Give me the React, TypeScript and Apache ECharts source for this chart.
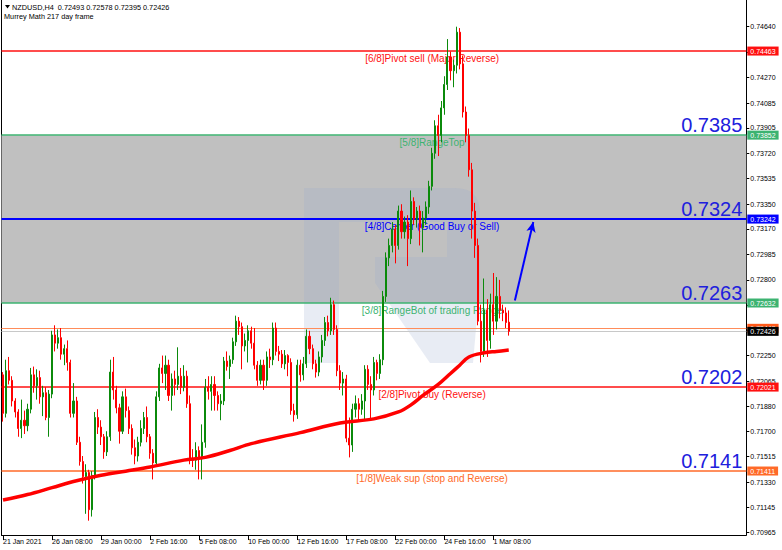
import React, { useEffect, useRef } from "react";
import * as echarts from "echarts";

const FONT = '"Liberation Sans", Arial, sans-serif';

const TITLE_LINE = "NZDUSD,H4  0.72493 0.72578 0.72395 0.72426";
const INDICATOR_LINE = "Murrey Math 217 day frame";

// x axis: one slot per H4 bar, label every 16 bars
const X_SLOTS = 243;
const X_TICK_STEP = 16;
const xTickLabels = [
  "21 Jan 2021", "26 Jan 08:00", "29 Jan 00:00", "2 Feb 16:00", "5 Feb 08:00",
  "10 Feb 00:00", "12 Feb 16:00", "17 Feb 08:00", "22 Feb 00:00", "24 Feb 16:00", "1 Mar 08:00",
];

// y axis
const Y_MIN = 0.70946;
const Y_MAX = 0.74834;
const yTickValues = [
  0.7464, 0.74455, 0.7427, 0.74085, 0.73905, 0.7372, 0.73535, 0.7335, 0.7317, 0.72985,
  0.728, 0.72615, 0.72435, 0.7225, 0.72065, 0.7188, 0.717, 0.71515, 0.7133, 0.71145, 0.70965,
];
// tick labels not covered by the price boxes
const yLabelValues = [
  0.7464, 0.7427, 0.74085, 0.73905, 0.7372, 0.73535, 0.7335, 0.7317, 0.72985,
  0.728, 0.7225, 0.72065, 0.7188, 0.717, 0.71515, 0.7133, 0.71145, 0.70965,
];

// candles: [open, high, low, close]
const ohlc: number[][] = [
  [0.7211, 0.7213, 0.7177, 0.7183], [0.7183, 0.7222, 0.718, 0.7214], [0.7214, 0.7224, 0.7204, 0.7207],
  [0.7207, 0.721, 0.7188, 0.7192], [0.7192, 0.7194, 0.718, 0.7184], [0.7184, 0.7186, 0.7166, 0.7172],
  [0.7172, 0.7193, 0.7165, 0.7178], [0.7178, 0.7185, 0.7168, 0.7174], [0.7174, 0.719, 0.717, 0.7186],
  [0.7186, 0.7216, 0.7183, 0.7211], [0.7211, 0.7217, 0.7198, 0.7203], [0.7203, 0.7215, 0.7193, 0.7209],
  [0.7209, 0.7214, 0.719, 0.7195], [0.7195, 0.7203, 0.7181, 0.7198], [0.7198, 0.7202, 0.7178, 0.718],
  [0.718, 0.72, 0.7166, 0.7197], [0.7197, 0.7243, 0.7194, 0.724], [0.724, 0.7247, 0.7228, 0.7234],
  [0.7234, 0.7244, 0.723, 0.7238], [0.7238, 0.7245, 0.7222, 0.7226], [0.7226, 0.7233, 0.7218, 0.723],
  [0.723, 0.7236, 0.7214, 0.722], [0.722, 0.7222, 0.718, 0.7183], [0.7183, 0.7205, 0.718, 0.7192],
  [0.7192, 0.7195, 0.716, 0.7162], [0.7162, 0.7166, 0.7145, 0.7148], [0.7148, 0.7152, 0.7132, 0.7137],
  [0.7137, 0.7146, 0.711, 0.714], [0.714, 0.7142, 0.7105, 0.7113], [0.7113, 0.7141, 0.7108, 0.7138],
  [0.7138, 0.7184, 0.7135, 0.718], [0.718, 0.7186, 0.7168, 0.7173], [0.7173, 0.7178, 0.716, 0.7166],
  [0.7166, 0.7168, 0.715, 0.7155], [0.7155, 0.717, 0.7152, 0.7166], [0.7166, 0.7222, 0.7163, 0.7213],
  [0.7213, 0.7224, 0.7193, 0.72], [0.72, 0.7203, 0.7183, 0.7187], [0.7187, 0.719, 0.7161, 0.717],
  [0.717, 0.7199, 0.7168, 0.7195], [0.7195, 0.7201, 0.718, 0.7185], [0.7185, 0.7188, 0.7168, 0.7172],
  [0.7172, 0.7175, 0.7153, 0.7158], [0.7158, 0.7164, 0.7146, 0.7152], [0.7152, 0.7166, 0.7148, 0.7162],
  [0.7162, 0.7178, 0.7159, 0.7172], [0.7172, 0.7184, 0.7168, 0.718], [0.718, 0.7188, 0.7162, 0.7166],
  [0.7166, 0.7168, 0.715, 0.7154], [0.7154, 0.7157, 0.7135, 0.7147], [0.7147, 0.7199, 0.7144, 0.7195],
  [0.7195, 0.7219, 0.7192, 0.7216], [0.7216, 0.7225, 0.7205, 0.7212], [0.7212, 0.7225, 0.72, 0.7218],
  [0.7218, 0.7222, 0.7192, 0.7196], [0.7196, 0.7212, 0.7185, 0.7208], [0.7208, 0.7214, 0.7196, 0.7204],
  [0.7204, 0.7231, 0.72, 0.721], [0.721, 0.7216, 0.7197, 0.7202], [0.7202, 0.7218, 0.7199, 0.721],
  [0.721, 0.7214, 0.7187, 0.719], [0.719, 0.7196, 0.7146, 0.715], [0.715, 0.7157, 0.7144, 0.7149],
  [0.7149, 0.7162, 0.7142, 0.7156], [0.7156, 0.7159, 0.7135, 0.715], [0.715, 0.7175, 0.7135, 0.7162],
  [0.7162, 0.7208, 0.7158, 0.7202], [0.7202, 0.721, 0.7193, 0.7199], [0.7199, 0.721, 0.7185, 0.7204],
  [0.7204, 0.721, 0.7185, 0.7196], [0.7196, 0.7199, 0.7185, 0.719], [0.719, 0.7197, 0.7178, 0.7192],
  [0.7192, 0.7224, 0.7189, 0.7221], [0.7221, 0.7228, 0.7214, 0.7217], [0.7217, 0.7225, 0.7208, 0.7222],
  [0.7222, 0.7238, 0.7219, 0.7235], [0.7235, 0.7254, 0.7232, 0.725], [0.725, 0.7253, 0.724, 0.7246],
  [0.7246, 0.7249, 0.7215, 0.7232], [0.7232, 0.7241, 0.7228, 0.7236], [0.7236, 0.7247, 0.722, 0.7243],
  [0.7243, 0.7246, 0.723, 0.7234], [0.7234, 0.7245, 0.7215, 0.7218], [0.7218, 0.7221, 0.7203, 0.7207],
  [0.7207, 0.7222, 0.7204, 0.7218], [0.7218, 0.7222, 0.72, 0.7207], [0.7207, 0.7228, 0.7203, 0.7224],
  [0.7224, 0.723, 0.7216, 0.7222], [0.7222, 0.7249, 0.7218, 0.7245], [0.7245, 0.7249, 0.7225, 0.7228],
  [0.7228, 0.7232, 0.7221, 0.7226], [0.7226, 0.7229, 0.7216, 0.7219], [0.7219, 0.7229, 0.7215, 0.7225],
  [0.7225, 0.7226, 0.721, 0.722], [0.722, 0.7223, 0.7182, 0.7185], [0.7185, 0.719, 0.7177, 0.7182],
  [0.7182, 0.7222, 0.7179, 0.7218], [0.7218, 0.7222, 0.7206, 0.7211], [0.7211, 0.7224, 0.7207, 0.7219],
  [0.7219, 0.7244, 0.7216, 0.7239], [0.7239, 0.7243, 0.7226, 0.723], [0.723, 0.7233, 0.7215, 0.7219],
  [0.7219, 0.7222, 0.7209, 0.7213], [0.7213, 0.7228, 0.721, 0.7224], [0.7224, 0.724, 0.722, 0.7236],
  [0.7236, 0.7253, 0.7232, 0.7249], [0.7249, 0.7254, 0.7239, 0.7243], [0.7243, 0.7267, 0.724, 0.7262],
  [0.7262, 0.7265, 0.724, 0.7244], [0.7244, 0.7247, 0.721, 0.7214], [0.7214, 0.7218, 0.72, 0.7205],
  [0.7205, 0.7213, 0.7196, 0.7208], [0.7208, 0.7211, 0.7162, 0.7165], [0.7165, 0.718, 0.7151, 0.716],
  [0.716, 0.719, 0.7155, 0.7186], [0.7186, 0.7196, 0.718, 0.719], [0.719, 0.7194, 0.7178, 0.7186],
  [0.7186, 0.7197, 0.7182, 0.7192], [0.7192, 0.7218, 0.7178, 0.7215], [0.7215, 0.7218, 0.72, 0.7204],
  [0.7204, 0.721, 0.7178, 0.72], [0.72, 0.7224, 0.7196, 0.722], [0.722, 0.7222, 0.7207, 0.7212],
  [0.7212, 0.7226, 0.7208, 0.7222], [0.7222, 0.7272, 0.7218, 0.7268], [0.7268, 0.73, 0.7264, 0.7296],
  [0.7296, 0.731, 0.729, 0.7305], [0.7305, 0.7322, 0.73, 0.7317], [0.7317, 0.732, 0.7292, 0.7305],
  [0.7305, 0.7334, 0.7302, 0.733], [0.733, 0.7335, 0.731, 0.7315], [0.7315, 0.7326, 0.731, 0.7322],
  [0.7322, 0.7327, 0.729, 0.731], [0.731, 0.7345, 0.7306, 0.7337], [0.7337, 0.734, 0.732, 0.7324],
  [0.7324, 0.7333, 0.7318, 0.733], [0.733, 0.7334, 0.7305, 0.7318], [0.7318, 0.733, 0.73, 0.7325],
  [0.7325, 0.7337, 0.732, 0.7333], [0.7333, 0.7352, 0.7328, 0.7348], [0.7348, 0.7376, 0.7345, 0.7372],
  [0.7372, 0.7396, 0.7368, 0.7392], [0.7392, 0.74, 0.737, 0.7385], [0.7385, 0.741, 0.738, 0.7405],
  [0.7405, 0.7428, 0.74, 0.7422], [0.7422, 0.7455, 0.7418, 0.7442], [0.7442, 0.7446, 0.7425, 0.7432],
  [0.7432, 0.744, 0.742, 0.7436], [0.7436, 0.7464, 0.743, 0.746], [0.746, 0.7463, 0.7433, 0.7437],
  [0.7437, 0.7443, 0.7398, 0.7402], [0.7402, 0.7406, 0.738, 0.7385], [0.7385, 0.739, 0.7355, 0.736],
  [0.736, 0.7365, 0.731, 0.733], [0.733, 0.7336, 0.7296, 0.7305], [0.7305, 0.731, 0.7247, 0.725],
  [0.725, 0.7262, 0.722, 0.7228], [0.7228, 0.7281, 0.7224, 0.7258], [0.7258, 0.7266, 0.7224, 0.7236],
  [0.7236, 0.727, 0.723, 0.7262], [0.7262, 0.7285, 0.724, 0.725], [0.725, 0.7282, 0.7244, 0.7268],
  [0.7268, 0.728, 0.7252, 0.7258], [0.7258, 0.7262, 0.725, 0.7256], [0.7256, 0.726, 0.7245, 0.7249],
  [0.72493, 0.72578, 0.72395, 0.72426],
];

// 200-period moving average readings: [bar index, value]
const ma200: number[][] = [
  [0, 0.712], [8, 0.7124], [16, 0.7129], [24, 0.7134], [32, 0.7138], [40, 0.7141], [48, 0.7144],
  [59, 0.7149], [66, 0.7151], [74, 0.7156], [81, 0.7161], [97, 0.7169], [110, 0.7176], [121, 0.7179],
  [129, 0.7184], [133, 0.7189], [137, 0.7196], [142, 0.7204], [146, 0.7212], [149, 0.7218],
  [152, 0.7224], [157, 0.7227], [161, 0.7228], [165, 0.7229],
];

// Murrey Math levels
const murreyLevels = [0.74463, 0.73852, 0.73242, 0.72632, 0.72021, 0.71411];
const murreyNames = [
  "[6/8]Pivot sell (Major Reverse)", "[5/8]RangeTop", "[4/8]Center (Good Buy or Sell)",
  "[3/8]RangeBot of trading Range", "[2/8]Pivot buy (Reverse)", "[1/8]Weak sup (stop and Reverse)",
];
const murreyColors = ["#ff1010", "#3cb371", "#0000ff", "#3cb371", "#ff1010", "#ff6a28"];
const murreyWidths = [1.5, 1.5, 2, 1.5, 1.5, 1.5];
const bigLabelLevels = [0.73852, 0.73242, 0.72632, 0.72021, 0.71411];
const bandRange = [0.73852, 0.72632];
const prevLevel = 0.72448;
const bidPrice = 0.72426;
const labelSpan = [110, 170];
const arrowFrom = [167, 0.7265];
const arrowTo = [173, 0.7322];

const LOGO_D =
  "M304 188 H339 V363 H304 Z M339 188 H455 Q480 188 480 213 V283 L473 363 H430 L375 283 V257 H447 V222 H339 Z";
let logoRegistered = false;
function ensureLogo() {
  if (logoRegistered) return;
  echarts.graphic.registerShape("rfLogo", echarts.graphic.extendPath(LOGO_D, {}) as any);
  logoRegistered = true;
}

const HIDDEN_LINE = { color: "rgba(0,0,0,0)", width: 0.01, type: "solid" };

function buildOption(): any {
  const categories = Array.from({ length: X_SLOTS }, (_, i) => String(i));
  const candleData = ohlc.map(([o, h, l, c]) => [o, c, l, h]);
  const lastTick = (xTickLabels.length - 1) * X_TICK_STEP;
  const showTick = (i: number) => i % X_TICK_STEP === 0 && i <= lastTick;

  const lineItems: any[] = [];
  murreyLevels.forEach((v, k) => {
    const col = murreyColors[k];
    lineItems.push({
      yAxis: v,
      lineStyle: { color: col, width: murreyWidths[k], type: "solid", opacity: 1 },
      label: {
        show: true, position: "end", distance: 1, formatter: v.toFixed(5), opacity: 1,
        backgroundColor: col, color: "#fff", fontSize: 7, fontFamily: FONT, padding: [1, 3, 1, 3],
      },
    });
  });
  murreyLevels.forEach((v, k) => {
    lineItems.push([
      {
        coord: [labelSpan[0], v],
        lineStyle: HIDDEN_LINE,
        label: {
          show: true, position: "insideMiddleBottom", distance: 2, formatter: murreyNames[k], opacity: 1,
          color: murreyColors[k], fontSize: 10, fontFamily: FONT,
        },
      },
      { coord: [labelSpan[1], v] },
    ]);
  });
  bigLabelLevels.forEach((v) => {
    lineItems.push({
      yAxis: v,
      lineStyle: HIDDEN_LINE,
      label: {
        show: true, position: "insideEndTop", distance: [4, 0], formatter: v.toFixed(4), opacity: 1,
        color: "#2020dd", fontSize: 20, fontFamily: FONT,
      },
    });
  });
  lineItems.push({
    yAxis: prevLevel,
    lineStyle: { color: "#ff8c5a", width: 1, type: "solid" },
    label: {
      show: true, position: "end", distance: 1, formatter: prevLevel.toFixed(5), opacity: 1,
      backgroundColor: "#ff5a1a", color: "#fff", fontSize: 7, fontFamily: FONT, padding: [1, 3, 1, 3],
    },
  });
  lineItems.push({
    yAxis: bidPrice,
    lineStyle: { color: "#c8c8c8", width: 1, type: "solid" },
    label: {
      show: true, position: "end", distance: 1, formatter: bidPrice.toFixed(5), opacity: 1,
      backgroundColor: "#000", color: "#fff", fontSize: 7, fontFamily: FONT, padding: [1, 3, 1, 3],
    },
  });
  lineItems.push([
    { coord: arrowFrom, symbol: "none", lineStyle: { color: "#0000ff", width: 2, type: "solid" }, label: { show: false } },
    { coord: arrowTo, symbol: "arrow", symbolSize: [7, 10] },
  ]);

  return {
    animation: false,
    backgroundColor: "#ffffff",
    grid: { left: 1, top: 0, right: 35.7, bottom: 15, containLabel: false },
    xAxis: {
      type: "category",
      data: categories,
      boundaryGap: true,
      axisLine: { show: true, lineStyle: { color: "#000", width: 1 } },
      axisTick: { show: true, alignWithLabel: true, interval: (i: number) => showTick(i), length: 5, lineStyle: { color: "#000" } },
      axisLabel: {
        show: true,
        interval: (i: number) => showTick(i),
        formatter: (_v: string, i: number) => xTickLabels[i / X_TICK_STEP] ?? "",
        align: "left",
        fontSize: 7,
        fontFamily: FONT,
        color: "#000",
        margin: 3,
      },
      splitLine: { show: false },
    },
    yAxis: [
      {
        type: "value",
        position: "right",
        min: Y_MIN,
        max: Y_MAX,
        axisLine: { show: true, lineStyle: { color: "#000", width: 1 } },
        axisTick: { show: true, length: 3, customValues: yTickValues, lineStyle: { color: "#000" } },
        axisLabel: {
          customValues: yLabelValues,
          formatter: (v: number) => v.toFixed(5),
          fontSize: 7,
          fontFamily: FONT,
          color: "#000",
          margin: 4,
        },
        splitLine: { show: false },
      },
      {
        type: "value",
        position: "left",
        min: Y_MIN,
        max: Y_MAX,
        axisLine: { show: true, onZero: false, lineStyle: { color: "#000", width: 1 } },
        axisTick: { show: false },
        axisLabel: { show: false },
        splitLine: { show: false },
      },
    ],
    graphic: [
      { type: "rfLogo", x: 0, y: 0, z: 1.5, silent: true, style: { fill: "rgba(150,170,205,0.22)" } },
      { type: "polygon", z: 10, shape: { points: [[5, 5], [10, 5], [7.5, 8.5]] }, style: { fill: "#000" } },
      { type: "text", x: 12, y: 7, z: 10, style: { text: TITLE_LINE, fontSize: 7.3, fontFamily: FONT, fill: "#000", verticalAlign: "middle" } },
      { type: "text", x: 4, y: 16, z: 10, style: { text: INDICATOR_LINE, fontSize: 7.3, fontFamily: FONT, fill: "#000", verticalAlign: "middle" } },
    ],
    series: [
      {
        type: "line",
        name: "levels",
        data: [],
        z: 2,
        silent: true,
        markArea: {
          z: 1,
          silent: true,
          precision: 5,
          itemStyle: { color: "#c0c0c0", opacity: 1 },
          data: [[{ yAxis: bandRange[0] }, { yAxis: bandRange[1] }]],
        },
        markLine: {
          z: 2,
          silent: true,
          precision: 5,
          symbol: ["none", "none"],
          data: lineItems,
        },
      },
      {
        type: "candlestick",
        name: "NZDUSD",
        data: candleData,
        z: 3,
        barWidth: 1.6,
        itemStyle: {
          color: "#0b8a0b",
          color0: "#ff0000",
          borderColor: "#0b8a0b",
          borderColor0: "#ff0000",
          borderWidth: 1,
        },
      },
      {
        type: "line",
        name: "MA200",
        data: ma200,
        z: 4,
        smooth: 0.35,
        symbol: "none",
        silent: true,
        lineStyle: { color: "#ff0000", width: 3.5 },
      },
    ],
  };
}

export default function App() {
  const ref = useRef<HTMLDivElement>(null);
  useEffect(() => {
    if (!ref.current) return;
    ensureLogo();
    const chart = echarts.init(ref.current, null, { renderer: "svg" });
    chart.setOption(buildOption());
    return () => chart.dispose();
  }, []);
  return (
    <div
      ref={ref}
      style={{ position: "absolute", left: 0, top: 0, width: 782, height: 550, background: "#fff" }}
    />
  );
}
